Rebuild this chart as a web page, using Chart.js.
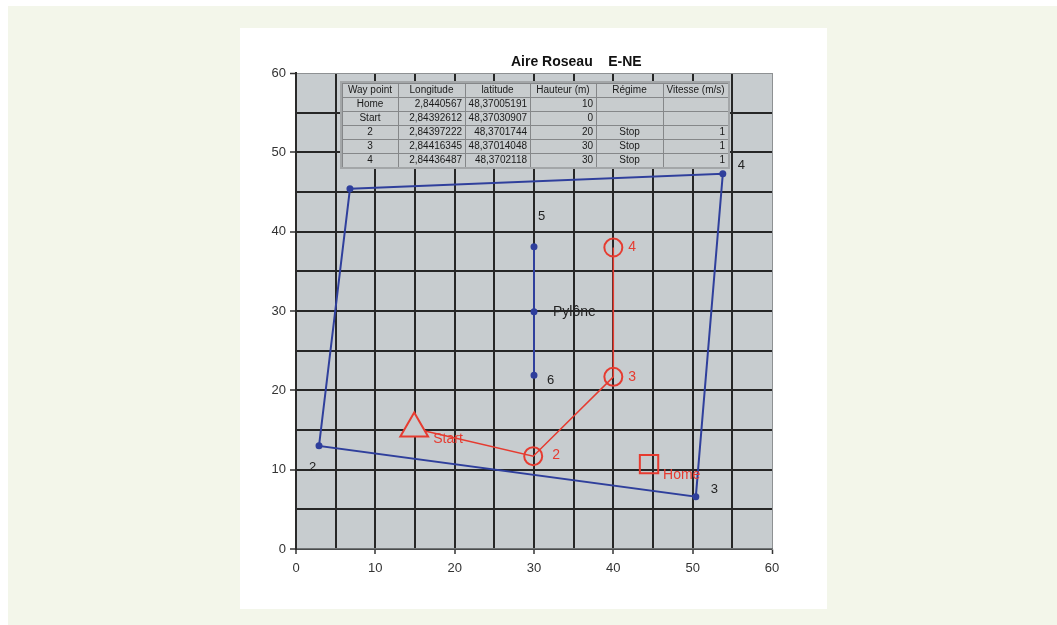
<!DOCTYPE html>
<html>
<head>
<meta charset="utf-8">
<script src="https://cdn.jsdelivr.net/npm/chart.js@4.4.1/dist/chart.umd.min.js"></script>
<style>
  html, body { margin: 0; padding: 0; background: #ffffff; width: 1057px; height: 625px; overflow: hidden; }
  #frame { position: absolute; left: 8px; top: 6px; width: 1049px; height: 619px; background: #f3f6ea; }
  #panel { position: absolute; left: 240px; top: 28px; width: 587px; height: 581px; background: #ffffff; }
  canvas { display: block; }
</style>
</head>
<body>
<div id="frame"></div>
<div id="panel"><canvas id="c" width="587" height="581"></canvas></div>
<script>
// ---- data ----
const chartTitle = 'Aire Roseau    E-NE';
const perimeterX = [6.8, 53.8, 50.4, 2.9, 6.8];
const perimeterY = [45.4, 47.3, 6.6, 13.0, 45.4];
const perimeterLabels = ['', '4', '3', '2', ''];
const pyloneX = [30, 30, 30];
const pyloneY = [38.1, 29.9, 21.9];
const pyloneLabels = ['5', 'Pylône', '6'];
const routeX = [14.9, 29.9, 40, 40];
const routeY = [15.2, 11.7, 21.7, 38.0];
const routeLabels = ['Start', '2', '3', '4'];
const homeX = [44.5];
const homeY = [10.7];
const homeLabels = ['Home'];
const axisTicks = [0, 10, 20, 30, 40, 50, 60];

const tableHeaders = ['Way point', 'Longitude', 'latitude', 'Hauteur (m)', 'Régime', 'Vitesse (m/s)'];
const tableWaypoints = ['Home', 'Start', '2', '3', '4'];
const tableLongitude = ['2,8440567', '2,84392612', '2,84397222', '2,84416345', '2,84436487'];
const tableLatitude = ['48,37005191', '48,37030907', '48,3701744', '48,37014048', '48,3702118'];
const tableHauteur = ['10', '0', '20', '30', '30'];
const tableRegime = ['', '', 'Stop', 'Stop', 'Stop'];
const tableVitesse = ['', '', '1', '1', '1'];

// ---- styles ----
const FONT = '"Liberation Sans", Arial, sans-serif';
const BLUE = '#2f3f9c';
const RED = '#e63b30';
const PLOT_BG = '#c7cccf';
const perimeterOffsets = [[0,0],[15,-8],[15,-7],[-10,22],[0,0]];
const pyloneOffsets = [[4,-30],[19,0],[13,5]];
const routeOffsets = [[19,11],[19,-1],[15,0],[15,0]];
const homeOffsets = [[14,11]];

const pts = (xs, ys) => xs.map((x, i) => ({ x: x, y: ys[i] }));

const bgPlugin = {
  id: 'bgPlugin',
  beforeDraw(chart) {
    const { ctx, chartArea: a } = chart;
    ctx.save();
    ctx.fillStyle = '#ffffff';
    ctx.fillRect(0, 0, chart.width, chart.height);
    ctx.fillStyle = PLOT_BG;
    ctx.fillRect(a.left, a.top, a.right - a.left, a.bottom - a.top);
    ctx.restore();
  }
};

const tablePlugin = {
  id: 'tablePlugin',
  afterDatasetsDraw(chart) {
    const { ctx, chartArea: a } = chart;
    const widths = [56, 67, 65, 66, 67, 65];
    const aligns = ['center', 'right', 'right', 'right', 'center', 'right'];
    const rowH = 14;
    const left = a.left + 46, top = a.top + 10;
    const totalW = widths.reduce((s, w) => s + w, 0);
    const cols = [tableWaypoints, tableLongitude, tableLatitude, tableHauteur, tableRegime, tableVitesse];
    const nRows = tableWaypoints.length + 1;
    ctx.save();
    ctx.fillStyle = '#c8ccce';
    ctx.fillRect(left, top, totalW, rowH * nRows);
    ctx.strokeStyle = '#858789';
    ctx.lineWidth = 1;
    for (let r = 0; r <= nRows; r++) {
      ctx.beginPath();
      ctx.moveTo(left, Math.round(top + r * rowH) + 0.5);
      ctx.lineTo(left + totalW, Math.round(top + r * rowH) + 0.5);
      ctx.stroke();
    }
    let cx = left;
    for (let c = 0; c <= widths.length; c++) {
      ctx.beginPath();
      ctx.moveTo(Math.round(cx) + 0.5, top);
      ctx.lineTo(Math.round(cx) + 0.5, top + rowH * nRows);
      ctx.stroke();
      if (c < widths.length) cx += widths[c];
    }
    ctx.strokeStyle = '#a3a6a8';
    ctx.lineWidth = 2;
    ctx.strokeRect(left - 1, top - 1, totalW + 2, rowH * nRows + 2);
    ctx.fillStyle = '#1a1a1a';
    ctx.font = '10px ' + FONT;
    ctx.textBaseline = 'middle';
    cx = left;
    for (let c = 0; c < widths.length; c++) {
      const w = widths[c];
      ctx.textAlign = 'center';
      ctx.fillText(tableHeaders[c], cx + w / 2, top + rowH / 2 + 0.5);
      for (let r = 0; r < tableWaypoints.length; r++) {
        const t = cols[c][r];
        if (!t) continue;
        const y = top + (r + 1) * rowH + rowH / 2 + 0.5;
        ctx.textAlign = aligns[c];
        const tx = aligns[c] === 'center' ? cx + w / 2 : cx + w - 3;
        ctx.fillText(t, tx, y);
      }
      cx += w;
    }
    ctx.restore();
  }
};

const labelPlugin = {
  id: 'labelPlugin',
  afterDatasetsDraw(chart) {
    const { ctx } = chart;
    ctx.save();
    ctx.textBaseline = 'middle';
    ctx.textAlign = 'left';
    chart.data.datasets.forEach((ds, i) => {
      if (!ds.pointLabels) return;
      const meta = chart.getDatasetMeta(i);
      ds.pointLabels.forEach((t, j) => {
        if (!t) return;
        const p = meta.data[j];
        const off = ds.labelOffsets[j];
        ctx.fillStyle = ds.labelColor;
        ctx.font = (ds.labelSizes ? ds.labelSizes[j] : 13) + 'px ' + FONT;
        ctx.fillText(t, p.x + off[0], p.y + off[1]);
      });
    });
    // title
    const a = chart.chartArea;
    ctx.fillStyle = '#111';
    ctx.font = 'bold 14px ' + FONT;
    ctx.textAlign = 'left';
    ctx.fillText(chartTitle, a.left + 215, a.top - 11);
    ctx.restore();
  }
};

function axisOpts(isX) {
  return {
    type: 'linear',
    min: axisTicks[0],
    max: axisTicks[axisTicks.length - 1],
    afterBuildTicks(scale) {
      const t = [];
      for (let v = scale.min; v <= scale.max; v += 5) t.push({ value: v });
      scale.ticks = t;
    },
    ticks: {
      callback: (v) => axisTicks.includes(v) ? String(v) : '',
      color: '#333',
      font: { family: FONT, size: 13 },
      padding: isX ? 7 : 4,
      autoSkip: false,
      maxRotation: 0
    },
    grid: {
      color: (c) => (c.tick && c.tick.value === 60) ? '#8e9193' : '#262626',
      lineWidth: (c) => (c.tick && c.tick.value === 60) ? 1 : 2,
      tickLength: isX ? 5 : 6,
      tickColor: (c) => (c.tick && axisTicks.includes(c.tick.value)) ? '#333' : 'rgba(0,0,0,0)',
      tickWidth: 1.5
    },
    border: { color: isX ? '#6f7274' : '#2a2a2a', width: isX ? 1.5 : 2 },
    afterFit(scale) {
      if (isX) scale.height = 60; else scale.width = 56;
    }
  };
}

new Chart(document.getElementById('c'), {
  type: 'scatter',
  data: {
    datasets: [
      {
        data: pts(perimeterX, perimeterY),
        showLine: true,
        borderColor: BLUE,
        borderWidth: 2,
        pointRadius: [2.5, 2.5, 2.5, 2.5, 0],
        pointBackgroundColor: BLUE,
        pointBorderColor: BLUE,
        pointLabels: perimeterLabels,
        labelOffsets: perimeterOffsets,
        labelColor: '#222',
        order: 3
      },
      {
        data: pts(pyloneX, pyloneY),
        showLine: true,
        borderColor: BLUE,
        borderWidth: 2,
        pointRadius: 2.5,
        pointBackgroundColor: BLUE,
        pointBorderColor: BLUE,
        pointLabels: pyloneLabels,
        labelOffsets: pyloneOffsets,
        labelSizes: [13, 14, 13],
        labelColor: '#222',
        order: 3
      },
      {
        data: pts(routeX, routeY),
        showLine: true,
        borderColor: RED,
        borderWidth: 1.5,
        pointStyle: ['triangle', 'circle', 'circle', 'circle'],
        pointRadius: [16, 9, 9, 9],
        pointBorderWidth: 2,
        pointBorderColor: RED,
        pointBackgroundColor: [PLOT_BG, 'rgba(0,0,0,0)', 'rgba(0,0,0,0)', 'rgba(0,0,0,0)'],
        pointLabels: routeLabels,
        labelOffsets: routeOffsets,
        labelSizes: [14, 14, 14, 14],
        labelColor: RED,
        order: 1
      },
      {
        data: pts(homeX, homeY),
        showLine: false,
        pointStyle: 'rect',
        pointRadius: 13,
        pointBorderWidth: 2,
        pointBorderColor: RED,
        pointBackgroundColor: 'rgba(0,0,0,0)',
        pointLabels: homeLabels,
        labelOffsets: homeOffsets,
        labelSizes: [14],
        labelColor: RED,
        order: 1
      }
    ]
  },
  options: {
    responsive: false,
    animation: false,
    layout: { padding: { left: 0, top: 45, right: 55, bottom: 0 } },
    plugins: { legend: { display: false }, tooltip: { enabled: false }, title: { display: false } },
    scales: { x: axisOpts(true), y: axisOpts(false) },
    elements: { line: { tension: 0 } }
  },
  plugins: [bgPlugin, tablePlugin, labelPlugin]
});
</script>
</body>
</html>
